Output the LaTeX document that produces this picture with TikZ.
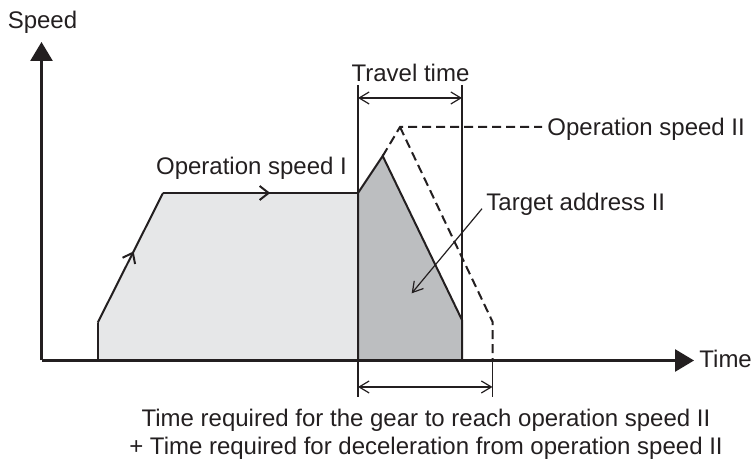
\documentclass[tikz,border=0pt]{standalone}
\usepackage{fontspec}
\setmainfont{Liberation Sans}
\usetikzlibrary{arrows.meta, decorations.markings}
\definecolor{ink}{HTML}{231F20}
\definecolor{lightfill}{HTML}{E6E7E8}
\definecolor{darkfill}{HTML}{BCBEC0}

\begin{document}
\begin{tikzpicture}[x=0.5pt, y=-0.5pt,
    axisline/.style={line width=1.35pt, draw=ink, -{Triangle[length=9.5pt, width=11pt]}},
    profile/.style={line width=1pt, draw=ink},
    dashprofile/.style={line width=1pt, draw=ink, dash pattern=on 4.5pt off 2.5pt},
    dimline/.style={line width=0.6pt, draw=ink},
    dimarrow/.style={dimline, {Straight Barb[length=5pt, width=6pt]}-{Straight Barb[length=5pt, width=6pt]}},
    pointer/.style={dimline, -{Straight Barb[length=5pt, width=6pt]}},
    midarrow/.style={postaction={decorate}, decoration={markings,
        mark=at position 0.55 with {\arrow{Straight Barb[length=4.5pt, width=7pt]}}}},
    lbl/.style={font=\fontsize{12}{14}\selectfont, text=ink, inner sep=0pt}
]
\useasboundingbox (0,0) rectangle (751,464);

% Speed profiles: operation speed I, then target address II
\fill[lightfill] (97.7,360.5) -- (97.7,322.7) -- (163,193) -- (358,193) -- (358,360.5) -- cycle;
\fill[darkfill] (358,360.5) -- (358,193) -- (382.7,156) -- (462,320) -- (462,360.5) -- cycle;
\draw[profile] (97.7,360.5) -- (97.7,322.7);
\draw[profile, midarrow] (97.7,322.7) -- (163,193);
\draw[profile, midarrow] (163,193) -- (358,193);
\draw[profile] (358,360.5) -- (358,193) -- (382.7,156) -- (462,320) -- (462,360.5);

% Operation speed II (dashed)
\draw[dashprofile] (382.7,156) -- (400,127) -- (542,127);
\draw[dashprofile] (400,127) -- (492.5,321.7) -- (492.5,360.5);

% Travel time
\draw[dimline] (358,85) -- (358,193);
\draw[dimline] (462,85) -- (462,320);
\draw[dimarrow] (358,98) -- (462,98);

% Time to reach operation speed II + deceleration
\draw[dimline] (358,360.5) -- (358,397);
\draw[dimline] (492.5,360.5) -- (492.5,397);
\draw[dimarrow] (358,387) -- (492.5,387);

% Axes
\coordinate (origin) at (41.5,360.5);
\draw[axisline] (origin) -- (41.5,42);
\draw[axisline] (origin) -- (694,360.5);

% Labels
\node[lbl, anchor=base] (speedlbl) at (42.5,28.5) {Speed};
\node[lbl, anchor=base west] (timelbl) at (699,368) {Time};
\node[lbl, anchor=base] (opI) at (251.5,175) {Operation speed I};
\node[lbl, anchor=base west] (opII) at (547,135.3) {Operation speed II};
\node[lbl, anchor=base west] (target) at (486,210.7) {Target address II};
\node[lbl, anchor=base] (travel) at (410.5,81.7) {Travel time};
\node[lbl, anchor=base] (reqI) at (426,426.7) {Time required for the gear to reach operation speed II};
\node[lbl, anchor=base] (reqII) at (426,455) {+ Time required for deceleration from operation speed II};

\coordinate (tgtarea) at (411.7,293.3);
\draw[pointer] ([xshift=-2pt, yshift=1pt]target.base west) -- (tgtarea);
\end{tikzpicture}
\end{document}
